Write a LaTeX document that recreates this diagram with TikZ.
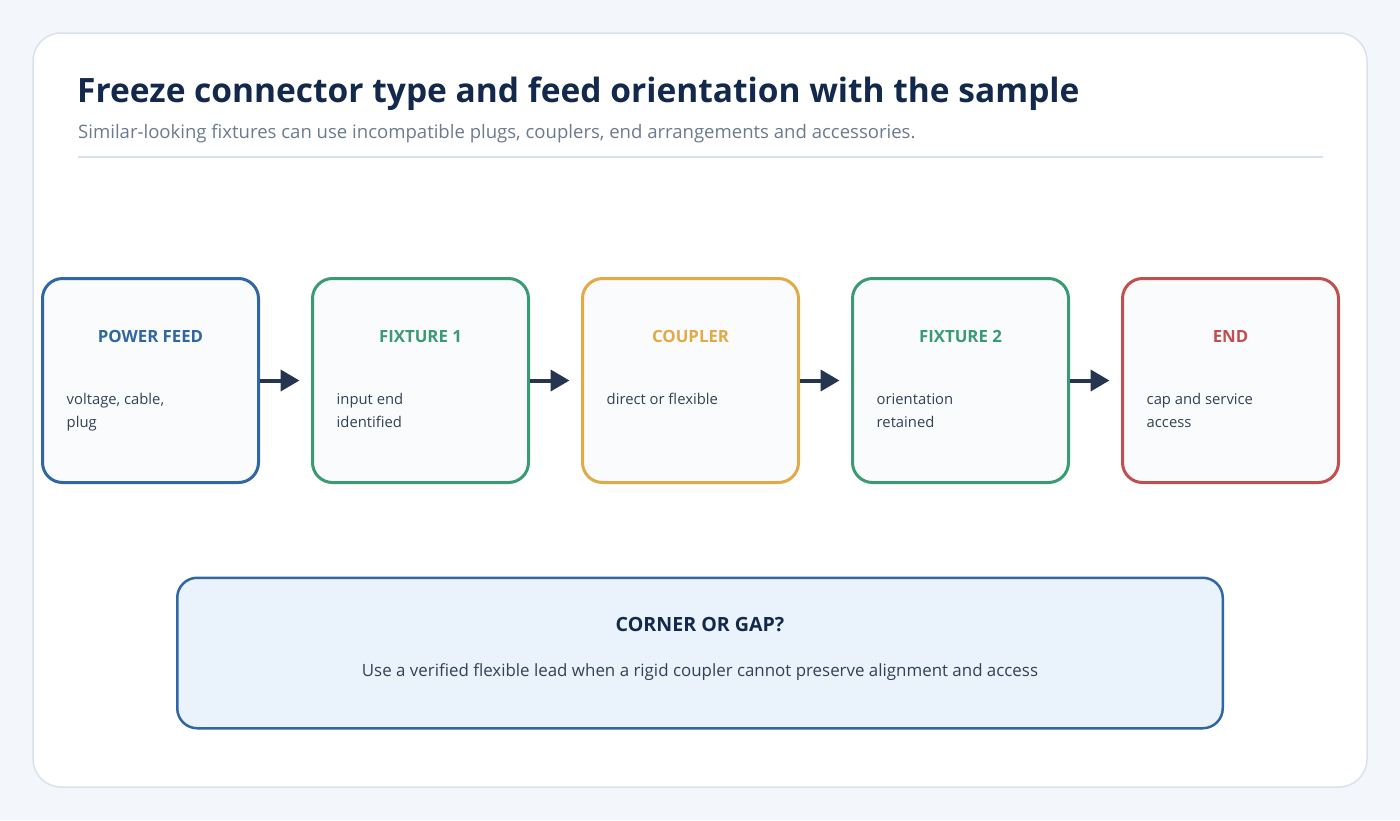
\documentclass[tikz,border=0pt]{standalone}
\usepackage{fontspec}
\setmainfont{Open Sans}
\usepackage{xcolor}
\usetikzlibrary{arrows.meta, positioning, calc}
\definecolor{pagebg}{HTML}{F3F7FB}
\definecolor{cardline}{HTML}{D9E2EA}
\definecolor{titlecol}{HTML}{13294B}
\definecolor{subcol}{HTML}{6B7B8F}
\definecolor{bodycol}{HTML}{334155}
\definecolor{arrowcol}{HTML}{25344F}
\definecolor{boxfill}{HTML}{F9FBFD}
\definecolor{notefill}{HTML}{EAF3FB}
\definecolor{feedblue}{HTML}{2F66A3}
\definecolor{fixgreen}{HTML}{3A9A72}
\definecolor{coupleryellow}{HTML}{E2AA46}
\definecolor{endred}{HTML}{C0504F}

\begin{document}
\begin{tikzpicture}[x=1pt, y=-1pt,
    stage/.style={draw, line width=3pt, rounded corners=20pt, fill=boxfill,
        minimum width=216pt, minimum height=204pt, inner sep=0pt},
    stagehead/.style={anchor=base, inner sep=0pt, font=\fontsize{16.8}{20}\selectfont\bfseries},
    stagebody/.style={anchor=base west, inner sep=0pt, align=left, text=bodycol,
        font=\fontsize{14.8}{23.5}\selectfont},
    twolines/.style={yshift=-23.5pt},
    flow/.style={-{Triangle[length=19pt, width=21pt]}, line width=4pt, draw=arrowcol, shorten >=11.5pt}]
    \fill[pagebg] (0,0) rectangle (1400,820);
    \useasboundingbox (0,0) rectangle (1400,820);
    \draw[cardline, line width=1.5pt, fill=white, rounded corners=28pt] (33,33) rectangle (1367,787);

    \node[anchor=base west, inner sep=0pt, text=titlecol, font=\fontsize{33.5}{40}\selectfont\bfseries] (title) at (77,102.5)
        {Freeze connector type and feed orientation with the sample};
    \node[anchor=base west, inner sep=0pt, text=subcol, font=\fontsize{18.55}{22}\selectfont] (subtitle) at (78,138)
        {Similar-looking fixtures can use incompatible plugs, couplers, end arrangements and accessories.};
    \draw[cardline, line width=2pt] (78,157) -- (1323,157);

    \node[stage, draw=feedblue] (feed) at (150.5,380.5) {};
    \node[stage, draw=fixgreen, right=51pt of feed] (fixone) {};
    \node[stage, draw=coupleryellow, right=51pt of fixone] (coupler) {};
    \node[stage, draw=fixgreen, right=51pt of coupler] (fixtwo) {};
    \node[stage, draw=endred, right=51pt of fixtwo] (endcap) {};

    \node[stagehead, text=feedblue] at ($(feed.north)+(0,65)$) {POWER FEED};
    \node[stagehead, text=fixgreen] at ($(fixone.north)+(0,65)$) {FIXTURE 1};
    \node[stagehead, text=coupleryellow] at ($(coupler.north)+(0,65)$) {COUPLER};
    \node[stagehead, text=fixgreen] at ($(fixtwo.north)+(0,65)$) {FIXTURE 2};
    \node[stagehead, text=endred] at ($(endcap.north)+(0,65)$) {END};

    \node[stagebody, twolines] at ($(feed.north west)+(25.5,127)$) {voltage, cable,\\plug};
    \node[stagebody, twolines] at ($(fixone.north west)+(25.5,127)$) {input end\\identified};
    \node[stagebody] at ($(coupler.north west)+(25.5,127)$) {direct or flexible};
    \node[stagebody, twolines] at ($(fixtwo.north west)+(25.5,127)$) {orientation\\retained};
    \node[stagebody, twolines] at ($(endcap.north west)+(25.5,127)$) {cap and service\\access};

    \draw[flow] (feed) -- (fixone);
    \draw[flow] (fixone) -- (coupler);
    \draw[flow] (coupler) -- (fixtwo);
    \draw[flow] (fixtwo) -- (endcap);

    \node[draw=feedblue, line width=2.5pt, fill=notefill, rounded corners=20pt,
        minimum width=1045.5pt, minimum height=150.5pt] (note) at (700,653) {};
    \node[anchor=base, inner sep=0pt, text=titlecol, font=\fontsize{19.6}{24}\selectfont\bfseries]
        at ($(note.north)+(0,55)$) {CORNER OR GAP?};
    \node[anchor=base, inner sep=0pt, text=bodycol, font=\fontsize{16.9}{20}\selectfont]
        at ($(note.north)+(0,100)$) {Use a verified flexible lead when a rigid coupler cannot preserve alignment and access};
\end{tikzpicture}
\end{document}
